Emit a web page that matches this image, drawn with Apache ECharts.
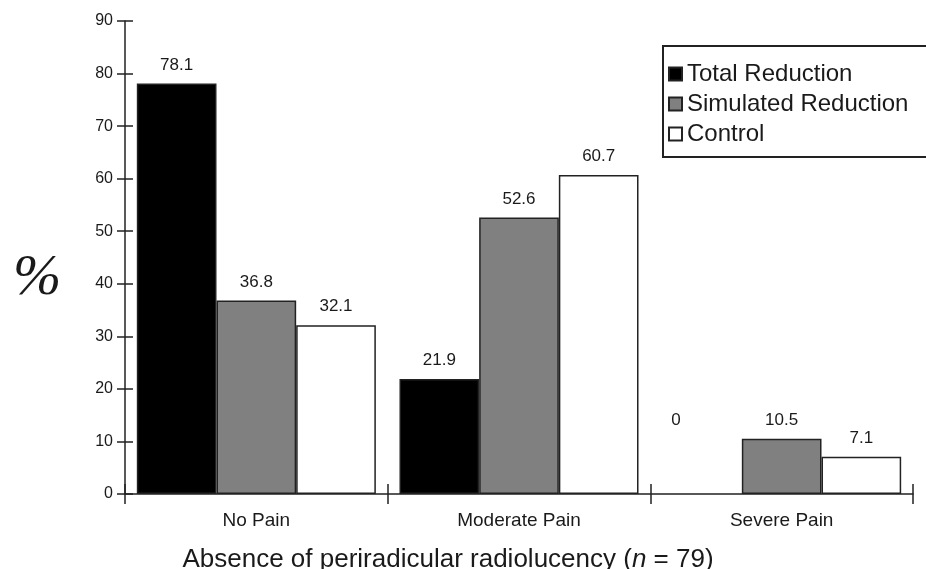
<!DOCTYPE html>
<html>
<head>
<meta charset="utf-8">
<script src="https://cdn.jsdelivr.net/npm/echarts@6/dist/echarts.min.js"></script>
<style>
  html, body { margin: 0; padding: 0; background: #fff; }
  #chart { width: 926px; height: 569px; }
</style>
</head>
<body>
<div id="chart"></div>
<script>
// Pain outcome categories and percentage per treatment group
const categories = ['No Pain', 'Moderate Pain', 'Severe Pain'];
const totalReduction = [78.1, 21.9, 0];
const simulatedReduction = [36.8, 52.6, 10.5];
const control = [32.1, 60.7, 7.1];

const yMin = 0;
const yMax = 90;
const yStep = 10;

const FONT = '"Liberation Sans", Arial, Helvetica, sans-serif';
const SERIF = '"Liberation Serif", "Times New Roman", serif';
const INK = '#1a1a1a';
const EDGE = '#222';

const chart = echarts.init(document.getElementById('chart'), null, { renderer: 'canvas' });

const valueLabel = {
  show: true,
  position: 'top',
  distance: 10,
  fontFamily: FONT,
  fontSize: 17,
  color: INK
};

function barSeries(name, values, fill) {
  return {
    name: name,
    type: 'bar',
    xAxisIndex: 0,
    yAxisIndex: 0,
    barGap: '0%',
    barCategoryGap: '9%',
    itemStyle: { color: fill, borderColor: EDGE, borderWidth: 1.5 },
    label: valueLabel,
    emphasis: { disabled: true },
    data: values.map(function (v) {
      if (v === 0) {
        // an empty bar: keep the label, drop the outline
        return {
          value: v,
          itemStyle: { borderWidth: 0 },
          label: { offset: [-26, -55] }
        };
      }
      return v;
    })
  };
}

chart.setOption({
  animation: false,
  backgroundColor: '#fff',
  title: {
    text: '%',
    left: 13,
    top: 250,
    padding: 0,
    textStyle: { fontFamily: SERIF, fontStyle: 'italic', fontWeight: 'normal', fontSize: 58, color: INK }
  },
  grid: { left: 125, right: 13, top: 21, bottom: 75, containLabel: false, outerBoundsMode: 'none' },
  legend: {
    orient: 'vertical',
    left: 663,
    top: 46,
    padding: [16, 60, 11, 5],
    icon: 'rect',
    itemWidth: 13,
    itemHeight: 13,
    itemGap: 6,
    borderColor: EDGE,
    borderWidth: 2,
    textStyle: { fontFamily: FONT, fontSize: 24, color: INK },
    data: ['Total Reduction', 'Simulated Reduction', 'Control']
  },
  xAxis: [
    {
      type: 'category',
      data: categories,
      position: 'bottom',
      axisLine: { show: true, lineStyle: { color: EDGE, width: 1.5 } },
      axisTick: { show: true, inside: false, length: 10, lineStyle: { color: EDGE, width: 1.5 } },
      axisLabel: { fontFamily: FONT, fontSize: 19, color: INK, margin: 17 },
      name: 'Absence of periradicular radiolucency ({i|n} = 79)',
      nameLocation: 'middle',
      nameGap: 53,
      nameTextStyle: {
        fontFamily: FONT,
        fontSize: 26,
        color: INK,
        padding: [0, 142, 0, 0],
        rich: { i: { fontFamily: FONT, fontSize: 26, fontStyle: 'italic', color: INK } }
      }
    },
    {
      type: 'category',
      data: categories,
      position: 'bottom',
      axisLine: { show: false },
      axisTick: { show: true, inside: true, length: 10, lineStyle: { color: EDGE, width: 1.5 } },
      axisLabel: { show: false }
    }
  ],
  yAxis: [
    {
      type: 'value',
      position: 'left',
      min: yMin,
      max: yMax,
      interval: yStep,
      axisLine: { show: true, lineStyle: { color: EDGE, width: 1.5 } },
      axisTick: { show: true, inside: false, length: 8, lineStyle: { color: EDGE, width: 1.5 } },
      axisLabel: { fontFamily: FONT, fontSize: 16, color: INK, margin: 12 },
      splitLine: { show: false }
    },
    {
      type: 'value',
      position: 'left',
      min: yMin,
      max: yMax,
      interval: yStep,
      axisLine: { show: false },
      axisTick: { show: true, inside: true, length: 8, lineStyle: { color: EDGE, width: 1.5 } },
      axisLabel: { show: false },
      splitLine: { show: false }
    }
  ],
  series: [
    barSeries('Total Reduction', totalReduction, '#000000'),
    barSeries('Simulated Reduction', simulatedReduction, '#808080'),
    barSeries('Control', control, '#ffffff')
  ]
});
</script>
</body>
</html>
